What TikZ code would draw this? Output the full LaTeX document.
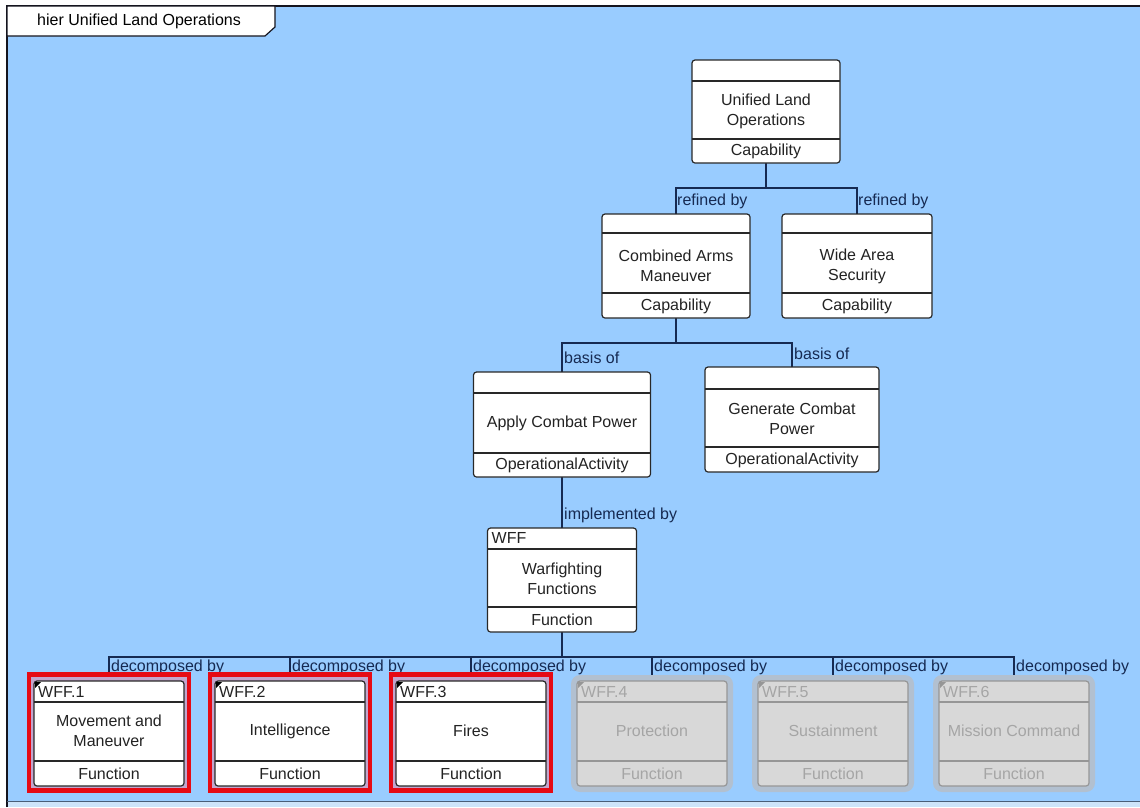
\documentclass[tikz,border=0pt]{standalone}
\usepackage{fontspec}
\setmainfont{Liberation Sans}
\usetikzlibrary{calc}
\definecolor{bg}{RGB}{153,204,255}
\definecolor{bgl}{RGB}{205,228,250}
\definecolor{framec}{RGB}{20,20,30}
\definecolor{navy}{RGB}{22,42,82}
\definecolor{boxc}{RGB}{40,40,40}
\definecolor{txtc}{RGB}{35,35,35}
\definecolor{gboxc}{RGB}{150,150,150}
\definecolor{gfill}{RGB}{216,216,216}
\definecolor{gtxtc}{RGB}{165,165,165}
\definecolor{halo}{RGB}{178,192,208}
\definecolor{mauve}{RGB}{195,165,205}
\definecolor{selred}{RGB}{230,10,20}
\pgfdeclarelayer{bglayer}
\pgfdeclarelayer{connlayer}
\pgfsetlayers{bglayer,connlayer,main}
% #1 name, #2 style prefix, #3 cx, #4 top, #5 bottom, #6 width, #7 line1, #8 line2
\newcommand\UmlBox[8]{%
  \node[#2box, minimum width=#6pt, minimum height={#5pt-#4pt}] (#1) at (#3,{(#4+#5)/2}) {};
  \draw[#2cline] (#1.west |- 0,#7) -- (#1.east |- 0,#7);
  \draw[#2cline] (#1.west |- 0,#8) -- (#1.east |- 0,#8);
}
\begin{document}
\begin{tikzpicture}[x=1pt,y=-1pt,
  box/.style={draw=boxc, fill=white, rounded corners=3pt, line width=1.2pt, inner sep=0pt, outer sep=0pt},
  gbox/.style={draw=gboxc, fill=gfill, rounded corners=3pt, line width=1.2pt, inner sep=0pt, outer sep=0pt},
  cline/.style={draw=boxc, line width=1.1pt},
  gcline/.style={draw=gboxc, line width=1.1pt},
  txt/.style={font=\fontsize{16}{20}\selectfont, text=txtc, inner sep=0pt, align=center},
  gtxt/.style={txt, text=gtxtc},
  conn/.style={draw=navy, line width=1.3pt},
  lbl/.style={font=\fontsize{16}{20}\selectfont, text=navy, inner sep=0pt, anchor=west},
  redsel/.style={draw=selred, line width=4.5pt},
  haloshape/.style={fill=halo, rounded corners=9pt},
]
\useasboundingbox (0,0) rectangle (1140,807);
\begin{pgfonlayer}{bglayer}
  \fill[white] (0,0) rectangle (1140,807);
  \fill[bg] (7,6) rectangle (1140,801);
  \fill[bgl] (7,801) rectangle (1140,807);
  \draw[framec, line width=2pt] (7,807) -- (7,6) -- (1140,6);
  \draw[framec!60!bg, line width=1pt] (7,801) -- (1140,801);
\end{pgfonlayer}

% title tab
\draw[fill=white, draw=framec, line width=1.2pt] (7,6) -- (275,6) -- (275,27) -- (265,36) -- (7,36) -- cycle;
\node[txt, text=black, anchor=west] (title) at (37,21) {hier Unified Land Operations};

% upper boxes
\UmlBox{ulo}{}{766}{60}{163}{148}{81}{139}
\node[txt] (ulo-b) at (766,111) {Unified Land\\Operations};
\node[txt] (ulo-s) at (766,151) {Capability};

\UmlBox{cam}{}{676}{214}{318}{148}{233}{293}
\node[txt] (cam-b) at (676,266) {Combined Arms\\Maneuver};
\node[txt] (cam-s) at (676,306) {Capability};

\UmlBox{was}{}{857}{214}{318}{150}{233}{293}
\node[txt] (was-b) at (857,266) {Wide Area\\Security};
\node[txt] (was-s) at (857,306) {Capability};

\UmlBox{apply}{}{562}{372}{477}{177}{393}{453}
\node[txt] (apply-b) at (562,423) {Apply Combat Power};
\node[txt] (apply-s) at (562,465) {OperationalActivity};

\UmlBox{gen}{}{792}{367}{472}{174}{389}{447}
\node[txt] (gen-b) at (792,419) {Generate Combat\\Power};
\node[txt] (gen-s) at (792,460) {OperationalActivity};

\UmlBox{wff}{}{562}{528}{632}{149}{549}{607}
\node[txt, anchor=west] (wff-h) at ($(wff.west |- 0,538)+(4,0)$) {WFF};
\node[txt] (wff-b) at (562,579) {Warfighting\\Functions};
\node[txt] (wff-s) at (562,620) {Function};

% bottom row: selected
\fill[mauve] (29,674.5) rectangle (189,790.5);
\fill[mauve] (210,674.5) rectangle (370,790.5);
\fill[mauve] (391,674.5) rectangle (551,790.5);
% bottom row: grey halos
\fill[haloshape] (571,675) rectangle (733,792);
\fill[haloshape] (752,675) rectangle (914,792);
\fill[haloshape] (933,675) rectangle (1095,792);

\UmlBox{f1}{}{109}{681}{786}{150}{702}{761}
\UmlBox{f2}{}{290}{681}{786}{150}{702}{761}
\UmlBox{f3}{}{471}{681}{786}{150}{702}{761}
\UmlBox{f4}{g}{652}{681}{786}{150}{702}{761}
\UmlBox{f5}{g}{833}{681}{786}{150}{702}{761}
\UmlBox{f6}{g}{1014}{681}{786}{150}{702}{761}

\foreach \n/\h in {f1/WFF.1, f2/WFF.2, f3/WFF.3}{
  \fill[black] ($(\n.north west)+(1,1)$) -- ++(6,0) -- ++(-6,6) -- cycle;
  \node[txt, anchor=west] (\n-h) at ($(\n.west |- 0,692)+(4,0)$) {\h};
  \node[txt] (\n-s) at (\n.center |- 0,774) {Function};
  \draw[redsel] ($(\n.north west)+(-5,-6.5)$) rectangle ($(\n.south east)+(5,4.5)$);
}
\foreach \n/\h in {f4/WFF.4, f5/WFF.5, f6/WFF.6}{
  \fill[gboxc] ($(\n.north west)+(1,1)$) -- ++(6,0) -- ++(-6,6) -- cycle;
  \node[gtxt, anchor=west] (\n-h) at ($(\n.west |- 0,692)+(4,0)$) {\h};
  \node[gtxt] (\n-s) at (\n.center |- 0,774) {Function};
}
\node[txt] (f1-b) at (109,731) {Movement and\\Maneuver};
\node[txt] (f2-b) at (290,731) {Intelligence};
\node[txt] (f3-b) at (471,731) {Fires};
\node[gtxt] (f4-b) at (652,731) {Protection};
\node[gtxt] (f5-b) at (833,731) {Sustainment};
\node[gtxt] (f6-b) at (1014,731) {Mission Command};

% connectors and labels
\begin{pgfonlayer}{connlayer}
  \coordinate (j1) at (766,188);
  \draw[conn] (ulo.south) -- (j1) -| (cam.north);
  \draw[conn] (j1) -| (was.north);
  \node[lbl] (l-ref1) at (677,201) {refined by};
  \node[lbl] (l-ref2) at (858,201) {refined by};

  \coordinate (j2) at (676,343);
  \draw[conn] (cam.south) -- (j2) -| (apply.north);
  \draw[conn] (j2) -| (gen.north);
  \node[lbl] (l-bas1) at (564,358) {basis of};
  \node[lbl] (l-bas2) at (794,354) {basis of};

  \draw[conn] (apply.south) -- (wff.north);
  \node[lbl] (l-imp) at (564,515) {implemented by};

  \coordinate (j3) at (562,657);
  \draw[conn] (wff.south) -- (j3);
  \foreach \n in {f1,f2,f3,f4,f5,f6}{
    \draw[conn] (j3) -| (\n.north);
    \node[lbl] (l-\n) at ($(\n.north)+(2,-14)$) {decomposed by};
  }
\end{pgfonlayer}
\end{tikzpicture}
\end{document}
